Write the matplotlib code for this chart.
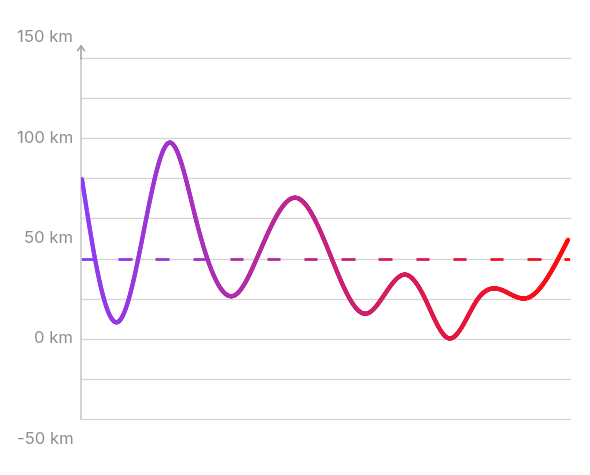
import numpy as np
import matplotlib
matplotlib.use("Agg")
import matplotlib.pyplot as plt
from matplotlib.collections import LineCollection
from matplotlib.colors import LinearSegmentedColormap

# Dados (posição 0-100, valor em km)
pos = [0, 2.67, 7.47, 11.58, 18.0, 23.4, 31.28, 35.95, 44.03, 51.38,
       58.44, 61.67, 66.46, 70.58, 75.51, 81.48, 85.39, 91.56, 98.0, 100]
km = [79.6, 40, 8.5, 40, 97.8, 60, 21.5, 40, 70.3, 40,
      12.5, 20, 32, 20, 0.2, 20, 25, 20.3, 40, 49.4]

media = 40
y_labels = [-50, 0, 50, 100, 150]
grid_vals = [-40, -20, 0, 20, 40, 60, 80, 100, 120, 140]

cor_ini = "#8C3CF5"
cor_fim = "#FF0A0A"
cmap = LinearSegmentedColormap.from_list("grad", [cor_ini, cor_fim])


def spline_natural(x, y, xs):
    # spline cúbica natural só para desenhar a linha suave
    x = np.asarray(x, float)
    y = np.asarray(y, float)
    n = len(x)
    h = np.diff(x)
    A = np.zeros((n, n))
    b = np.zeros(n)
    A[0, 0] = 1
    A[-1, -1] = 1
    for i in range(1, n - 1):
        A[i, i - 1] = h[i - 1]
        A[i, i] = 2 * (h[i - 1] + h[i])
        A[i, i + 1] = h[i]
        b[i] = 6 * ((y[i + 1] - y[i]) / h[i] - (y[i] - y[i - 1]) / h[i - 1])
    M = np.linalg.solve(A, b)
    idx = np.clip(np.searchsorted(x, xs) - 1, 0, n - 2)
    x0, x1 = x[idx], x[idx + 1]
    hh = x1 - x0
    t0 = x1 - xs
    t1 = xs - x0
    return (M[idx] * t0 ** 3 / (6 * hh) + M[idx + 1] * t1 ** 3 / (6 * hh)
            + (y[idx] / hh - M[idx] * hh / 6) * t0
            + (y[idx + 1] / hh - M[idx + 1] * hh / 6) * t1)


fig = plt.figure(figsize=(5.9, 4.75), dpi=100)
ax = fig.add_axes([81 / 590, 56 / 475, 489 / 590, 361 / 475])

x_min, x_max = -0.2, 100.4
ax.set_xlim(x_min, x_max)
ax.set_ylim(-40, 140)

# Linhas de grade
for g in grid_vals:
    ax.axhline(g, color="#D4D4D6", lw=0.9, zorder=1, clip_on=False)

# Linha média tracejada com gradiente
periodo = 7.65
traco = 2.75
inicios = np.arange(x_min, x_max, periodo)
segs_m = [[(s, media), (min(s + traco, x_max), media)] for s in inicios]
cores_m = [cmap((s + traco / 2 - x_min) / (x_max - x_min)) for s in inicios]
ax.add_collection(LineCollection(segs_m, colors=cores_m, linewidths=2.0,
                                 capstyle="butt", zorder=2))

# Curva principal com gradiente
xs = np.linspace(pos[0], pos[-1], 1500)
ys = spline_natural(pos, km, xs)
pts = np.column_stack([xs, ys]).reshape(-1, 1, 2)
segs = np.concatenate([pts[:-1], pts[1:]], axis=1)
lc = LineCollection(segs, cmap=cmap, linewidths=3.0, capstyle="round",
                    joinstyle="round", zorder=3)
lc.set_array((xs[:-1] - pos[0]) / (pos[-1] - pos[0]))
lc.set_clim(0, 1)
ax.add_collection(lc)

# Eixos
for lado in ["top", "right", "bottom"]:
    ax.spines[lado].set_visible(False)
ax.spines["left"].set_color("#C7C7CC")
ax.spines["left"].set_linewidth(1.1)
ax.set_xticks([])
ax.set_yticks([])

ax.annotate("", xy=(0, 1.045), xytext=(0, 0.99), xycoords="axes fraction",
            arrowprops=dict(arrowstyle="->,head_length=0.35,head_width=0.25",
                            color="#A0A0A5", lw=1.1))

for v in y_labels:
    ax.text(-0.016, v, f"{v} km", transform=ax.get_yaxis_transform(),
            ha="right", va="center", fontsize=12, color="#8E8E93",
            family=["Inter", "DejaVu Sans"], clip_on=False)

fig.savefig("out.png", dpi=100)
